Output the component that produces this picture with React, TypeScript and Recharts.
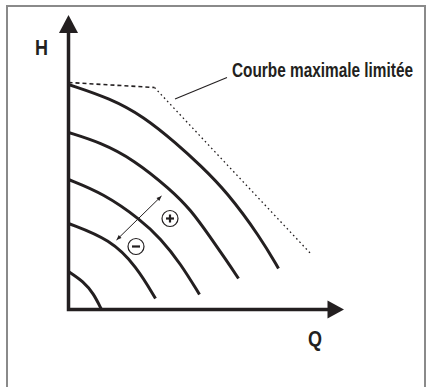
import React from 'react';
import { ComposedChart, XAxis, YAxis, Line, Scatter } from 'recharts';

// pump curves (Q, H), top curve first
const curve1 = [
  { q: 0, h: 225 }, { q: 42, h: 211 }, { q: 75, h: 193 }, { q: 108, h: 166 },
  { q: 132, h: 144 }, { q: 158, h: 118 }, { q: 192, h: 72 }, { q: 210, h: 41 },
];
const curve2 = [
  { q: 0, h: 177 }, { q: 32, h: 167 }, { q: 65, h: 150 }, { q: 102, h: 120 },
  { q: 122, h: 100 }, { q: 142, h: 72 }, { q: 158, h: 49 }, { q: 170, h: 31 },
];
const curve3 = [
  { q: 0, h: 130 }, { q: 35, h: 116 }, { q: 72, h: 90 }, { q: 92, h: 71 },
  { q: 112, h: 46 }, { q: 131, h: 15 },
];
const curve4 = [
  { q: 0, h: 86 }, { q: 42, h: 70 }, { q: 68, h: 43 }, { q: 87, h: 11 },
];
const curve5 = [
  { q: 0, h: 38 }, { q: 15, h: 28 }, { q: 25, h: 16 }, { q: 33, h: 0 },
];

// "courbe maximale limitée"
const limitFlat = [{ q: 0, h: 227 }, { q: 86, h: 222 }];
const limitSlope = [{ q: 86, h: 222 }, { q: 243, h: 55 }];

// axes and their arrow tips
const axes = [{ q: 0, h: 278 }, { q: 0, h: 0 }, { q: 262, h: 0 }];
const axisTips = [
  { q: 0, h: 294.5, dir: 'up' },
  { q: 275.5, h: 0, dir: 'right' },
];

const leader = [{ q: 106.5, h: 210.5 }, { q: 158.5, h: 232 }];
const speedArrow = [{ q: 48, h: 69.5 }, { q: 93, h: 113.5 }];
const signs = [
  { q: 101.5, h: 91, sign: '+' },
  { q: 67.5, h: 63, sign: '-' },
];
const labels = [
  { q: -33.5, h: 254.5, text: 'H' },
  { q: 239.5, h: -36, text: 'Q' },
  { q: 163.5, h: 232.5, text: 'Courbe maximale limitée' },
];

const INK = '#231f20';
const FONT = "'Liberation Sans', Arial, sans-serif";
// condensed bold look: squeeze each label to the width it has in the drawing
const labelFit: Record<string, { size: number; width: number }> = {
  H: { size: 22, width: 13 },
  Q: { size: 22, width: 14 },
  'Courbe maximale limitée': { size: 19.5, width: 181 },
};

const AxisTip = (props: any) => {
  const { cx, cy, payload } = props;
  if (payload.dir === 'up') {
    return <path d={`M${cx},${cy} L${cx - 9.5},${cy + 18} L${cx + 9.5},${cy + 18} Z`} fill={INK} />;
  }
  return <path d={`M${cx},${cy} L${cx - 16.5},${cy - 9} L${cx - 16.5},${cy + 9} Z`} fill={INK} />;
};

const SignMark = (props: any) => {
  const { cx, cy, payload } = props;
  return (
    <g>
      <circle cx={cx} cy={cy} r={8} fill="#fff" stroke={INK} strokeWidth={1.2} />
      <line x1={cx - 4} y1={cy} x2={cx + 4} y2={cy} stroke={INK} strokeWidth={2.2} />
      {payload.sign === '+' && (
        <line x1={cx} y1={cy - 4} x2={cx} y2={cy + 4} stroke={INK} strokeWidth={2.2} />
      )}
    </g>
  );
};

const LabelMark = (props: any) => {
  const { cx, cy, payload } = props;
  const fit = labelFit[payload.text];
  return (
    <text x={cx} y={cy} fontFamily={FONT} fontWeight="bold" fontSize={fit.size} fill={INK}
      textLength={fit.width} lengthAdjust="spacingAndGlyphs">
      {payload.text}
    </text>
  );
};

const ArrowEnd = (props: any) => {
  const { cx, cy, index } = props;
  const a = speedArrow[0];
  const b = speedArrow[1];
  let ang = Math.atan2(-(b.h - a.h), b.q - a.q);
  if (index === 0) ang += Math.PI;
  const deg = (ang * 180) / Math.PI;
  return (
    <path
      key={`end-${index}`}
      d={`M${cx},${cy} L${cx - 5},${cy - 2} L${cx - 5},${cy + 2} Z`}
      transform={`rotate(${deg} ${cx} ${cy})`}
      fill={INK}
    />
  );
};

export default function App() {
  return (
    <div style={{ position: 'absolute', left: 0, top: 0, width: 427, height: 387, background: '#fff', overflow: 'hidden' }}>
      <div
        style={{
          position: 'absolute',
          left: 6,
          top: 5,
          width: 416,
          height: 400,
          borderTop: '2px solid #8a8a8a',
          borderLeft: '2px solid #8a8a8a',
          borderRight: '2px solid #8a8a8a',
        }}
      />
      <div style={{ position: 'absolute', left: 0, top: 0 }}>
        <ComposedChart width={427} height={387} margin={{ top: 0, right: 0, bottom: 0, left: 0 }}>
          <XAxis type="number" dataKey="q" domain={[-68.5, 358.5]} hide allowDataOverflow />
          <YAxis type="number" dataKey="h" domain={[-77.5, 309.5]} hide allowDataOverflow />

          <Line data={limitFlat} dataKey="h" type="linear" stroke={INK} strokeWidth={1.6}
            strokeDasharray="4 3" dot={false} activeDot={false} isAnimationActive={false} />
          <Line data={limitSlope} dataKey="h" type="linear" stroke={INK} strokeWidth={1.3}
            strokeDasharray="1.6 3" dot={false} activeDot={false} isAnimationActive={false} />
          <Line data={leader} dataKey="h" type="linear" stroke={INK} strokeWidth={1.1}
            dot={false} activeDot={false} isAnimationActive={false} />

          {[curve1, curve2, curve3, curve4, curve5].map((c, i) => (
            <Line key={i} data={c} dataKey="h" type="basis" stroke={INK} strokeWidth={3}
              dot={false} activeDot={false} isAnimationActive={false} />
          ))}

          <Line data={axes} dataKey="h" type="linear" stroke={INK} strokeWidth={3.5}
            strokeLinejoin="miter" dot={false} activeDot={false} isAnimationActive={false} />
          <Scatter data={axisTips} dataKey="h" shape={AxisTip} isAnimationActive={false} />

          <Line data={speedArrow} dataKey="h" type="linear" stroke={INK} strokeWidth={1}
            dot={ArrowEnd} activeDot={false} isAnimationActive={false} />
          <Scatter data={signs} dataKey="h" shape={SignMark} isAnimationActive={false} />
          <Scatter data={labels} dataKey="h" shape={LabelMark} isAnimationActive={false} />
        </ComposedChart>
      </div>
    </div>
  );
}
